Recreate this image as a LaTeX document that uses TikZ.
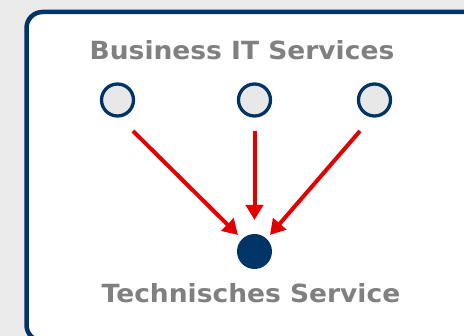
\documentclass[tikz,border=0pt]{standalone}
\usepackage{fontspec}
\setmainfont{DejaVu Sans}
\newfontfamily\lblfont[FakeStretch=1.06]{DejaVu Sans}
\usetikzlibrary{arrows.meta}
\definecolor{navy}{HTML}{003366}
\definecolor{bg}{HTML}{EBEBEB}
\definecolor{lbl}{HTML}{808080}
\definecolor{arr}{HTML}{E30000}
\definecolor{cfill}{HTML}{E8E8E8}
\tikzset{
  panel/.style={draw=navy, line width=4.5pt, fill=white, rounded corners=16pt},
  opencirc/.style={circle, draw=navy, line width=3.3pt, fill=cfill, minimum size=32pt, inner sep=0pt},
  fullcirc/.style={circle, fill=navy, minimum size=35pt, inner sep=0pt},
  title/.style={text=lbl, font=\lblfont\fontsize{25}{30}\selectfont\bfseries, inner sep=0pt},
  link/.style={draw=arr, line width=4pt, -{Triangle[length=15pt,width=17pt]}, shorten >=0pt}
}
\begin{document}
\begin{tikzpicture}[x=1pt,y=-1pt]
\useasboundingbox (0,0) rectangle (464,336);
\fill[bg] (0,0) rectangle (464,336);
\draw[panel] (26.5,12) rectangle (490,341);
\node[title] (top) at (242,50) {Business IT Services};
\node[title] (bot) at (251,293) {Technisches Service};
\node[opencirc] (c1) at (117.5,100) {};
\node[opencirc] (c2) at (254.5,100) {};
\node[opencirc] (c3) at (374.5,100) {};
\node[fullcirc] (t) at (254.5,251.5) {};
\coordinate (s1) at (133,131);
\coordinate (s2) at (254.5,131);
\coordinate (s3) at (360,131);
\coordinate (e1) at (238,235);
\coordinate (e2) at (254.5,220);
\coordinate (e3) at (270,235);
\draw[link] (s1) -- (e1);
\draw[link] (s2) -- (e2);
\draw[link] (s3) -- (e3);
\end{tikzpicture}
\end{document}
